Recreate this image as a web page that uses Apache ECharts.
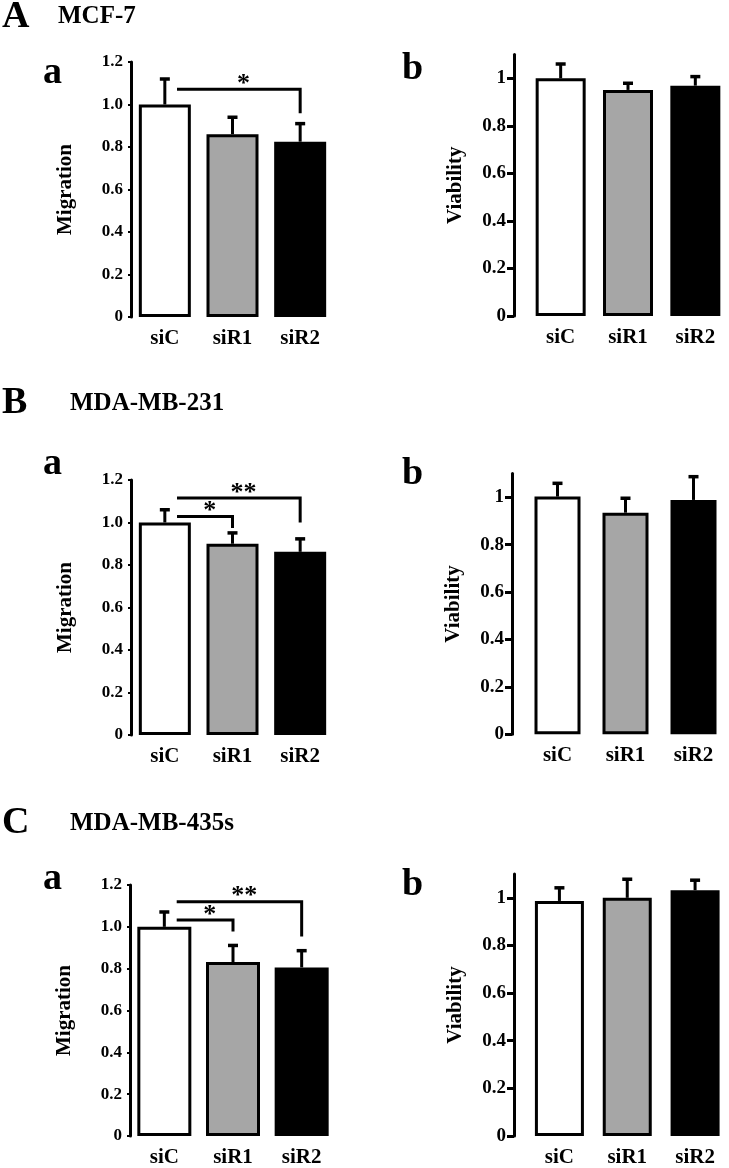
<!DOCTYPE html>
<html>
<head>
<meta charset="utf-8">
<script src="https://cdn.jsdelivr.net/npm/echarts@6/dist/echarts.min.js"></script>
<style>
html,body{margin:0;padding:0;background:#fff;}
#chart{width:729px;height:1168px;}
</style>
</head>
<body>
<div id="chart"></div>
<script>
// ---------- DATA ----------
const categories = ['siC', 'siR1', 'siR2'];

const migrationTicks = [0, 0.2, 0.4, 0.6, 0.8, 1.0, 1.2];
const viabilityTicks = [0, 0.2, 0.4, 0.6, 0.8, 1.0];

const mcf7Migration      = [1.00, 0.86, 0.825];
const mcf7MigrationErr   = [0.12, 0.08, 0.085];
const mcf7Viability      = [1.00, 0.951, 0.969];
const mcf7ViabilityErr   = [0.06, 0.028, 0.038];

const mb231Migration     = [1.00, 0.90, 0.862];
const mb231MigrationErr  = [0.06, 0.051, 0.061];
const mb231Viability     = [1.003, 0.935, 0.989];
const mb231ViabilityErr  = [0.056, 0.061, 0.098];

const mb435Migration     = [1.00, 0.832, 0.806];
const mb435MigrationErr  = [0.071, 0.079, 0.080];
const mb435Viability     = [0.987, 1.00, 1.032];
const mb435ViabilityErr  = [0.055, 0.078, 0.042];

// significance brackets: [fromCategory, toCategory, lineValue, dropEndValue, label]
const mcf7Sig  = [[0, 2, 1.072, 0.959, '*']];
const mb231Sig = [[0, 2, 1.115, 1.00, '**'], [0, 1, 1.028, 0.974, '*']];
const mb435Sig = [[0, 2, 1.12, 0.954, '**'], [0, 1, 1.033, 0.978, '*']];

const headers = [['A', 'MCF-7'], ['B', 'MDA-MB-231'], ['C', 'MDA-MB-435s']];
const panelLetters = ['a', 'b'];
const yNames = ['Migration', 'Viability'];

// ---------- STYLE / LAYOUT ----------
const FONT = '"Liberation Serif", "Times New Roman", serif';
const fills = ['#ffffff', '#a6a6a6', '#000000'];

const panels = [
  {vals: mcf7Migration, err: mcf7MigrationErr, sig: mcf7Sig, type: 0,
   grid: {left: 131, top: 62, width: 203, height: 255}, axisOffset: 0, barWidth: 52},
  {vals: mcf7Viability, err: mcf7ViabilityErr, sig: [], type: 1,
   grid: {left: 527, top: 54.5, width: 205.5, height: 261.5}, axisOffset: 13, barWidth: 50},
  {vals: mb231Migration, err: mb231MigrationErr, sig: mb231Sig, type: 0,
   grid: {left: 131, top: 480, width: 203, height: 255}, axisOffset: 0, barWidth: 52},
  {vals: mb231Viability, err: mb231ViabilityErr, sig: [], type: 1,
   grid: {left: 523.5, top: 473.6, width: 204, height: 260.7}, axisOffset: 11.5, barWidth: 46},
  {vals: mb435Migration, err: mb435MigrationErr, sig: mb435Sig, type: 0,
   grid: {left: 130, top: 885, width: 206, height: 252}, axisOffset: 0, barWidth: 54},
  {vals: mb435Viability, err: mb435ViabilityErr, sig: [], type: 1,
   grid: {left: 525.5, top: 874, width: 205.5, height: 262}, axisOffset: 11.5, barWidth: 49}
];

const grids = [], xAxes = [], yAxes = [], series = [];

panels.forEach((p, i) => {
  grids.push(Object.assign({containLabel: false}, p.grid));
  xAxes.push({
    type: 'category', gridIndex: i, data: categories,
    axisLine: {show: false}, axisTick: {show: false},
    axisLabel: {fontFamily: FONT, fontWeight: 'bold', fontSize: 21, color: '#000', margin: 11}
  });
  const isMig = p.type === 0;
  yAxes.push({
    type: 'value', gridIndex: i, min: 0, max: isMig ? 1.2 : 1.1,
    offset: p.axisOffset,
    splitLine: {show: false},
    name: yNames[p.type], nameLocation: 'middle', nameGap: isMig ? 55 : 48,
    nameTextStyle: {fontFamily: FONT, fontWeight: 'bold', fontSize: 21, color: '#000'},
    axisLine: {show: true, lineStyle: {color: '#000', width: 3}},
    axisTick: {show: true, length: isMig ? 3 : 7, lineStyle: {color: '#000', width: isMig ? 2 : 3},
               customValues: isMig ? migrationTicks : viabilityTicks},
    axisLabel: {fontFamily: FONT, fontWeight: 'bold', fontSize: isMig ? 17 : 19, color: '#000', margin: 8,
                customValues: isMig ? migrationTicks : viabilityTicks,
                formatter: v => isMig ? (v === 0 ? '0' : v.toFixed(1)) : String(+v.toFixed(1))}
  });
  series.push({
    type: 'bar', xAxisIndex: i, yAxisIndex: i, barWidth: p.barWidth,
    data: p.vals.map((v, k) => ({value: v, itemStyle: {color: fills[k]}})),
    itemStyle: {borderColor: '#000', borderWidth: 3},
    z: 2, animation: false
  });
  series.push({
    type: 'custom', xAxisIndex: i, yAxisIndex: i, z: 3, animation: false, clip: false,
    data: p.vals.map((v, k) => [k, v, p.err[k]]),
    encode: {x: 0, y: 1},
    renderItem: (params, api) => {
      const x = api.value(0), v = api.value(1), e = api.value(2);
      const base = api.coord([x, v]);
      const top = api.coord([x, v + e]);
      return {type: 'group', children: [
        {type: 'line', shape: {x1: base[0], y1: base[1], x2: top[0], y2: top[1]}, style: {stroke: '#000', lineWidth: 3}},
        {type: 'line', shape: {x1: top[0] - 5, y1: top[1], x2: top[0] + 5, y2: top[1]}, style: {stroke: '#000', lineWidth: 3.5}}
      ]};
    }
  });
  if (p.sig.length) {
    series.push({
      type: 'custom', xAxisIndex: i, yAxisIndex: i, z: 4, animation: false, clip: false,
      data: p.sig.map(s => [s[0], s[1], s[2], s[3]]),
      encode: {x: 0, y: 2},
      renderItem: (params, api) => {
        const s = p.sig[params.dataIndex];
        const band = api.size([1, 0])[0];
        const a = api.coord([s[0], s[2]]);
        const b = api.coord([s[1], s[2]]);
        const d = api.coord([s[1], s[3]]);
        const x1 = a[0] + 0.18 * band, x2 = b[0];
        return {type: 'group', children: [
          {type: 'polyline', shape: {points: [[x1, a[1]], [x2, a[1]], [x2, d[1]]]},
           style: {stroke: '#000', lineWidth: 3, fill: null}},
          {type: 'text', x: (x1 + x2) / 2 + 5, y: a[1] + 8,
           style: {text: s[4], font: 'bold 26px ' + FONT, fill: '#000', align: 'center', verticalAlign: 'bottom'}}
        ]};
      }
    });
  }
});

// header and panel letters
const graphics = [];
const headerY = [31, 417, 837];
const headerTitleY = [26, 413, 833];
const letterY = [[86, 82], [477, 487], [892, 898]];
headers.forEach((h, r) => {
  graphics.push({type: 'text', left: 2, top: headerY[r] - 33,
    style: {text: h[0], font: 'bold 38px ' + FONT, fill: '#000'}});
  graphics.push({type: 'text', left: r === 0 ? 58 : 70, top: headerTitleY[r] - 22,
    style: {text: h[1], font: 'bold 25px ' + FONT, fill: '#000'}});
  panelLetters.forEach((l, c) => {
    graphics.push({type: 'text', left: c === 0 ? 43 : 402, top: letterY[r][c] - 32,
      style: {text: l, font: 'bold 38px ' + FONT, fill: '#000'}});
  });
});

const chart = echarts.init(document.getElementById('chart'), null, {renderer: 'canvas'});
chart.setOption({
  animation: false,
  backgroundColor: '#fff',
  grid: grids, xAxis: xAxes, yAxis: yAxes, series: series,
  graphic: graphics
});
</script>
</body>
</html>
